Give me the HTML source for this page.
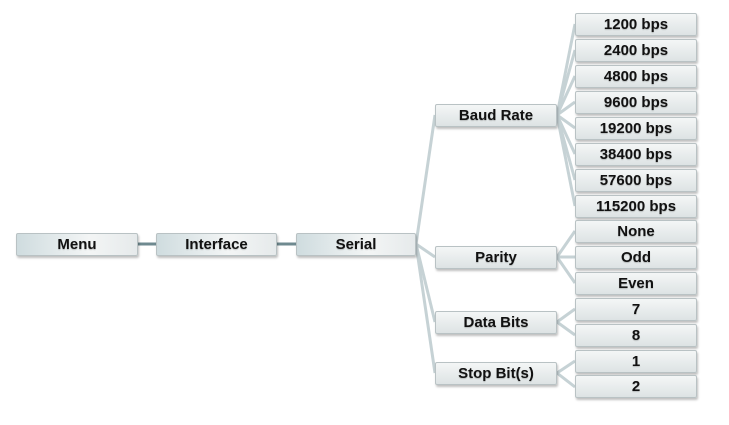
<!DOCTYPE html>
<html><head><style>
body{margin:0;width:729px;height:425px;background:#fff;position:relative;overflow:hidden;font-family:"Liberation Sans",sans-serif}
.b{position:absolute;height:21px;line-height:21px;text-align:center;font-weight:bold;font-size:15px;color:#111;
background:linear-gradient(to bottom,#f4f6f6,#dde3e4);border:1px solid #b9c2c4;border-radius:2px;box-shadow:1px 2px 2px rgba(0,0,0,0.25);box-sizing:border-box;height:23px;text-shadow:0 1px 1px rgba(0,0,0,0.2)}
.l{left:16px;width:122px;background:linear-gradient(to right,#cfdcdf,#f3f5f5 60%,#e6eaeb)}
svg{position:absolute;left:0;top:0}
</style></head><body>
<svg width="729" height="425">
<g stroke="#6f8a90" stroke-width="3"><line x1="138" y1="244" x2="156" y2="244"/><line x1="277" y1="244" x2="296" y2="244"/></g>
<g stroke="#c6d2d5" stroke-width="3" fill="none">
<line x1="416" y1="244" x2="435" y2="115"/><line x1="416" y1="244" x2="435" y2="257"/><line x1="416" y1="244" x2="435" y2="322"/><line x1="416" y1="244" x2="435" y2="373"/>
<line x1="557" y1="115" x2="575" y2="24"/><line x1="557" y1="115" x2="575" y2="50"/><line x1="557" y1="115" x2="575" y2="76"/><line x1="557" y1="115" x2="575" y2="102"/><line x1="557" y1="115" x2="575" y2="128"/><line x1="557" y1="115" x2="575" y2="154"/><line x1="557" y1="115" x2="575" y2="180"/><line x1="557" y1="115" x2="575" y2="206"/>
<line x1="557" y1="257" x2="575" y2="231"/><line x1="557" y1="257" x2="575" y2="257"/><line x1="557" y1="257" x2="575" y2="283"/>
<line x1="557" y1="322" x2="575" y2="309"/><line x1="557" y1="322" x2="575" y2="335"/>
<line x1="557" y1="373" x2="575" y2="361"/><line x1="557" y1="373" x2="575" y2="387"/>
</g></svg>
<div class="b l" style="top:233px">Menu</div>
<div class="b l" style="left:156px;top:233px;width:121px">Interface</div>
<div class="b l" style="left:296px;top:233px;width:120px">Serial</div>
<div class="b" style="left:435px;top:104px;width:122px">Baud Rate</div>
<div class="b" style="left:435px;top:246px;width:122px">Parity</div>
<div class="b" style="left:435px;top:311px;width:122px">Data Bits</div>
<div class="b" style="left:435px;top:362px;width:122px">Stop Bit(s)</div>
<div class="b" style="left:575px;top:13px;width:122px">1200 bps</div>
<div class="b" style="left:575px;top:39px;width:122px">2400 bps</div>
<div class="b" style="left:575px;top:65px;width:122px">4800 bps</div>
<div class="b" style="left:575px;top:91px;width:122px">9600 bps</div>
<div class="b" style="left:575px;top:117px;width:122px">19200 bps</div>
<div class="b" style="left:575px;top:143px;width:122px">38400 bps</div>
<div class="b" style="left:575px;top:169px;width:122px">57600 bps</div>
<div class="b" style="left:575px;top:195px;width:122px">115200 bps</div>
<div class="b" style="left:575px;top:220px;width:122px">None</div>
<div class="b" style="left:575px;top:246px;width:122px">Odd</div>
<div class="b" style="left:575px;top:272px;width:122px">Even</div>
<div class="b" style="left:575px;top:298px;width:122px">7</div>
<div class="b" style="left:575px;top:324px;width:122px">8</div>
<div class="b" style="left:575px;top:350px;width:122px">1</div>
<div class="b" style="left:575px;top:375px;width:122px">2</div>
</body></html>
